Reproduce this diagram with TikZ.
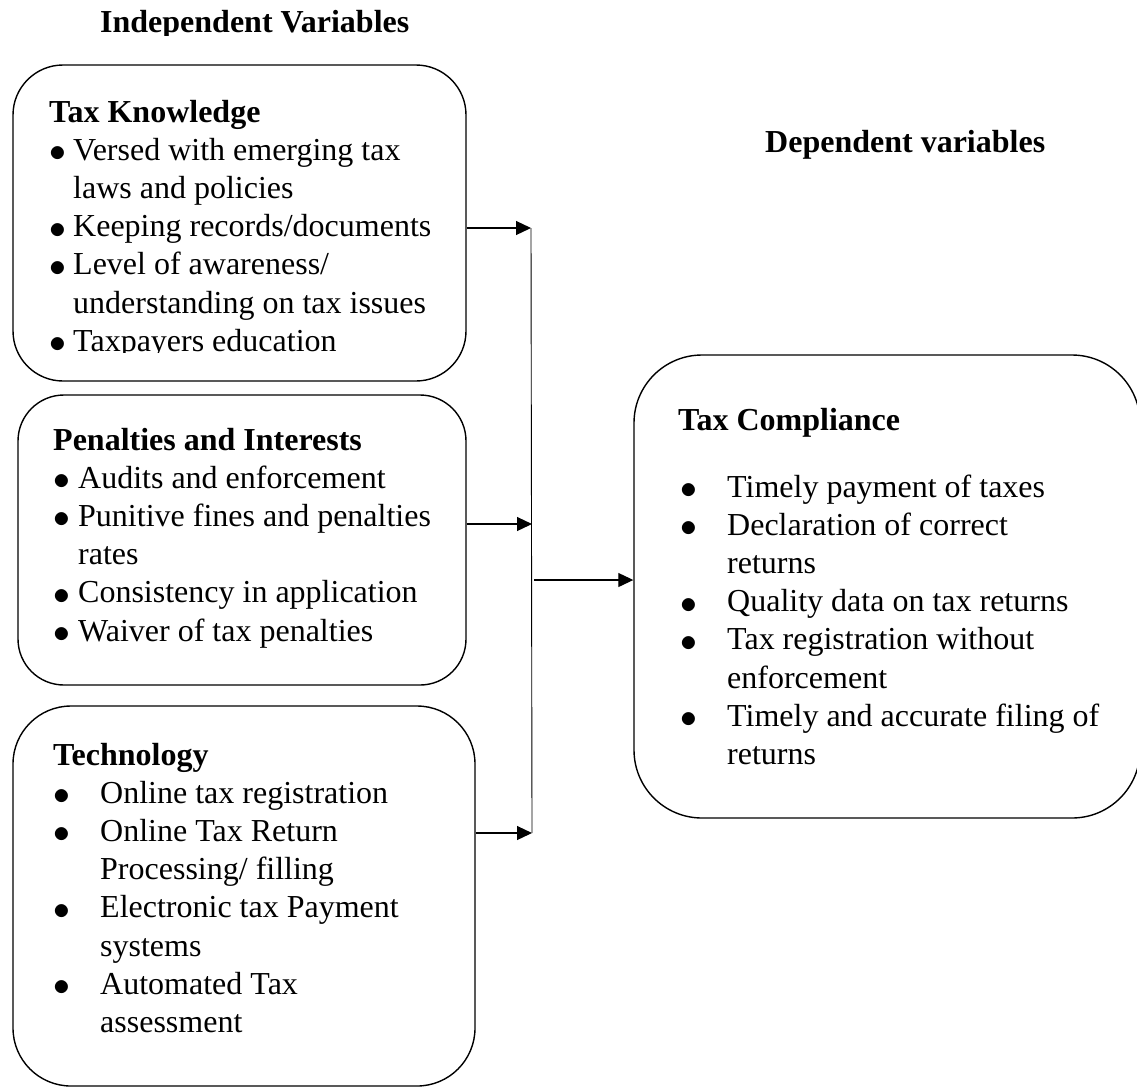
\documentclass[tikz,border=0pt]{standalone}
\usepackage{fontspec}
\setmainfont{Liberation Serif}
\usepackage{array}
\usetikzlibrary{arrows.meta}
\newcommand\diagfont{\fontsize{32}{38.2}\selectfont}
\newcommand\bul{\raisebox{-1.5pt}{\scalebox{1.35}{$\bullet$}}}
\tikzset{
  box/.style={draw, line width=1.4pt, rounded corners=#1, inner sep=0pt},
  txt/.style={anchor=base west, inner sep=0pt, font=\diagfont},
  arr/.style={line width=1.2pt, -{Triangle[length=15pt,width=14pt]}},
  bus/.style={line width=0.9pt}
}
\begin{document}
\begin{tikzpicture}[x=1pt,y=-1pt]
\useasboundingbox (0,0) rectangle (1137,1088);
\clip (0,0) rectangle (1137,1088);

% headers
\begin{scope}
  \clip (0,0) rectangle (1137,35);
  \node[txt] (hind) at (100,32) {\bfseries Independent Variables};
\end{scope}
\node[txt] (hdep) at (765,152) {\bfseries Dependent variables};

% boxes
\node[box=50pt, minimum width=453pt, minimum height=316pt] (tk) at (239.5,223) {};
\node[box=46pt, minimum width=448pt, minimum height=290pt] (pi) at (242,540) {};
\node[box=58pt, minimum width=462pt, minimum height=380pt] (te) at (244,896) {};
\node[box=68pt, minimum width=506pt, minimum height=463pt] (tc) at (887,586.5) {};

% box texts
\begin{scope}
  \clip (0,0) rectangle (1137,352.5);
  \node[txt] (tkt) at (49,122) {\begin{tabular}[t]{@{}p{24pt}@{}l@{}}
    \multicolumn{2}{@{}l@{}}{\bfseries Tax Knowledge}\\
    \bul & Versed with emerging tax\\
    & laws and policies\\
    \bul & Keeping records/documents\\
    \bul & Level of awareness/\\
    & understanding on tax issues\\
    \bul & Taxpayers education
  \end{tabular}};
\end{scope}

\node[txt] (pit) at (53,450) {\begin{tabular}[t]{@{}p{25pt}@{}l@{}}
    \multicolumn{2}{@{}l@{}}{\bfseries Penalties and Interests}\\
    \bul & Audits and enforcement\\
    \bul & Punitive fines and penalties\\
    & rates\\
    \bul & Consistency in application\\
    \bul & Waiver of tax penalties
  \end{tabular}};

\node[txt] (tet) at (53,765) {\begin{tabular}[t]{@{}p{47pt}@{}l@{}}
    \multicolumn{2}{@{}l@{}}{\bfseries Technology}\\
    \bul & Online tax registration\\
    \bul & Online Tax Return\\
    & Processing/ filling\\
    \bul & Electronic tax Payment\\
    & systems\\
    \bul & Automated Tax\\
    & assessment
  \end{tabular}};

\node[txt] (tct) at (678,430) {\bfseries Tax Compliance};
\node[txt] (tcl) at (680,497) {\begin{tabular}[t]{@{}p{47pt}@{}l@{}}
    \bul & Timely payment of taxes\\
    \bul & Declaration of correct\\
    & returns\\
    \bul & Quality data on tax returns\\
    \bul & Tax registration without\\
    & enforcement\\
    \bul & Timely and accurate filing of\\
    & returns
  \end{tabular}};

% connectors
\coordinate (j1) at (531,228);
\coordinate (j2) at (532,524);
\coordinate (j3) at (532,833);
\coordinate (jm) at (534,580);
\draw[bus] (j1) -- (j3);
\draw[arr] (tk.east |- j1) -- (j1);
\draw[arr] (pi.east |- j2) -- (j2);
\draw[arr] (te.east |- j3) -- (j3);
\draw[arr] (jm) -- (tc.west |- jm);
\end{tikzpicture}
\end{document}
